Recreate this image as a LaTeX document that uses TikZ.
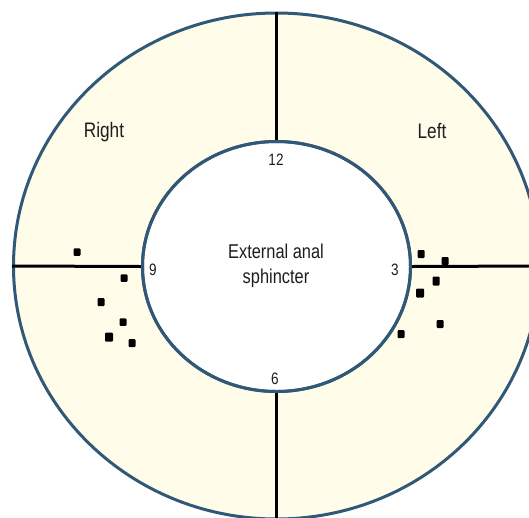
\documentclass[tikz,border=0pt]{standalone}
\usepackage{fontspec}
\setmainfont{Liberation Sans}[FakeStretch=0.82]
\usepackage{tikz}
\usetikzlibrary{shapes.geometric,positioning}
\definecolor{ringblue}{RGB}{50,88,120}
\definecolor{ringfill}{RGB}{255,253,234}
\definecolor{txtgray}{RGB}{30,30,30}

\begin{document}
\begin{tikzpicture}[x=1pt,y=-1pt,
  ring/.style={ellipse,draw=ringblue,line width=3pt,inner sep=0pt},
  split/.style={line width=3pt,black},
  side/.style={font=\fontsize{21}{24}\selectfont,text=txtgray},
  hour/.style={font=\fontsize{16.5}{19}\selectfont,text=txtgray,inner sep=0pt},
  dot/.style={fill=black,inner sep=0pt,rounded corners=1pt,minimum width=7pt,minimum height=7.5pt}]
\useasboundingbox (0,0) rectangle (529,517);
\node[ring,fill=ringfill,minimum width=526pt,minimum height=506pt] (outer) at (276.5,266) {};
\node[ring,fill=white,minimum width=268pt,minimum height=250pt] (inner) at (276.5,266.5) {};
\draw[split] (outer.north)--(inner.north);
\draw[split] (inner.south)--(outer.south);
\draw[split] (outer.west)--(inner.west);
\draw[split] (inner.east)--(outer.east);
\node[ring,minimum width=268pt,minimum height=250pt] at (inner.center) {};
% labels
\node[side] (right) at (104,132) {Right};
\node[side] (left) at (432,131) {Left};
\node[hour] (h12) at (276,160) {12};
\node[hour] (h9) at (153,270) {9};
\node[hour] (h3) at (395,270) {3};
\node[hour] (h6) at (275,379) {6};
\node[align=center,font=\fontsize{20}{24.5}\selectfont,text=txtgray] (eas) at (276,266) {External anal\\sphincter};
% right side marks
\node[dot] (r1) at (77,252) {};
\node[dot] (r2) at (124,278) {};
\node[dot,minimum height=8pt] (r3) at (101,302) {};
\node[dot] (r4) at (123,322) {};
\node[dot,minimum width=8pt,minimum height=9pt] (r5) at (109,337) {};
\node[dot,minimum height=8pt] (r6) at (132,343) {};
% left side marks
\node[dot,minimum height=8pt] (l1) at (421,254) {};
\node[dot,minimum height=8pt] (l2) at (445,261) {};
\node[dot,minimum height=9pt] (l3) at (436,281) {};
\node[dot,minimum width=8pt,minimum height=9pt] (l4) at (420,293) {};
\node[dot,minimum height=8pt] (l5) at (440,324) {};
\node[dot,minimum height=8pt] (l6) at (401,334) {};
\end{tikzpicture}
\end{document}
